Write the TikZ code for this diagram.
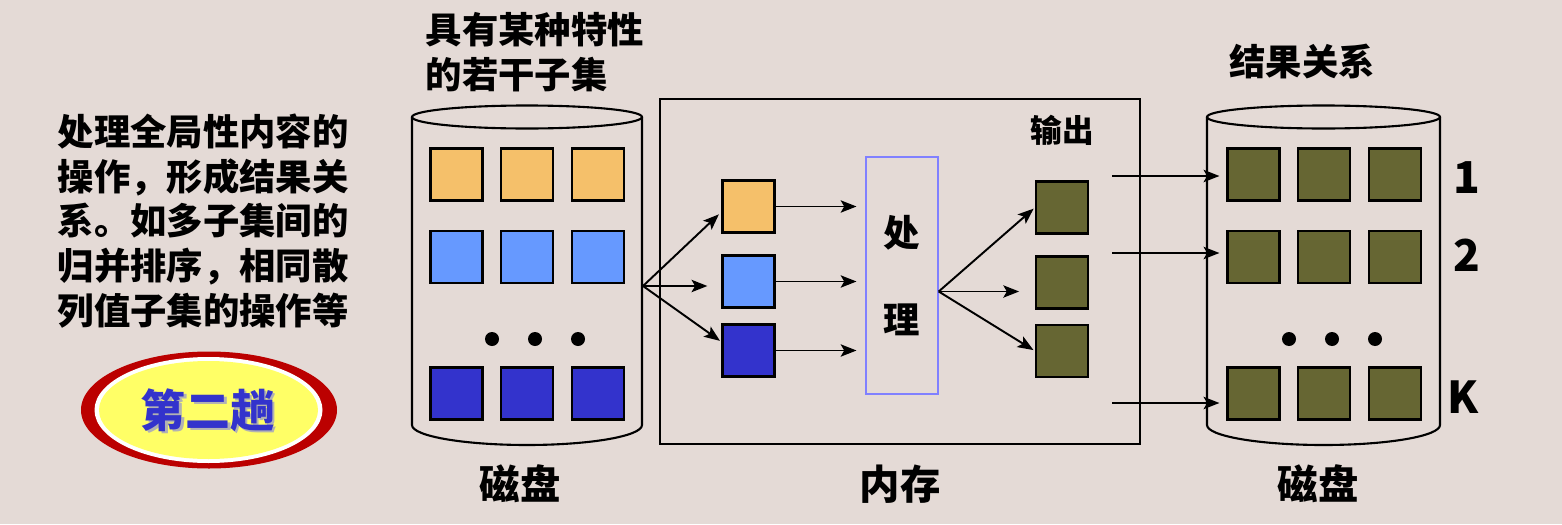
\documentclass[tikz,border=0pt]{standalone}
\usepackage{fontspec}
\setmainfont{Noto Sans CJK SC}
\usepackage{xcolor}
\usepackage{tikz}
\usetikzlibrary{arrows.meta}
\usetikzlibrary{calc}
\usetikzlibrary{positioning}
\definecolor{bgpaper}{HTML}{E4DAD6}
\definecolor{orng}{HTML}{F5C06A}
\definecolor{lblue}{HTML}{6699FF}
\definecolor{dblue}{HTML}{3333CC}
\definecolor{olive}{HTML}{666633}
\definecolor{procline}{HTML}{8080FF}
\definecolor{badgered}{HTML}{BB0000}
\definecolor{badgeyel}{HTML}{FFFF66}

\begin{document}
\begin{tikzpicture}[-,>={Stealth[length=9pt,width=7pt,inset=2pt]},x=0.2mm,y=0.2mm,node distance=5.7mm and 3.3mm,thick]
  \tikzstyle{blk}=[draw, line width=1.2pt, minimum size=10.4mm, inner sep=0pt]
  \tikzstyle{flow}=[->, line width=1.1pt]
  \tikzstyle{cyl}=[line width=1.2pt]
  \tikzstyle{txt}=[inner sep=0pt, font=\bfseries\fontsize{20.7}{25.5}\selectfont]
  \tikzstyle{big}=[inner sep=0pt, font=\bfseries\fontsize{23}{28}\selectfont]
  \fill[bgpaper] (0,0) rectangle (1562,524);
  \useasboundingbox (0,0) rectangle (1562,524);

  % left text and badge
  \node[txt, anchor=west, align=left] (note) at (57,303)
    {处理全局性内容的\\操作，形成结果关\\系。如多子集间的\\归并排序，相同散\\列值子集的操作等};
  \fill[badgered] (209,114) ellipse (128 and 58.5);
  \fill[white] (208.5,114) ellipse (114 and 53);
  \fill[badgeyel] (208.5,114) ellipse (109.5 and 49);
  \node[inner sep=0pt, text=gray!60, font=\bfseries\fontsize{25.5}{30}\selectfont] (badgeshadow) at (210.5,112) {第二趟};
  \node[inner sep=0pt, text=dblue, font=\bfseries\fontsize{25.5}{30}\selectfont] (badge) at (208,114) {第二趟};

  % left disk
  \draw[cyl] (527,407) ellipse (115 and 11.5);
  \draw[cyl] (412,407) -- (412,99) arc[start angle=180, end angle=360, x radius=115, y radius=20] -- (642,407);
  \node[blk, fill=orng]  (L1) at (456.5,349.5) {};
  \node[blk, fill=orng]  (L2) [right=of L1] {};
  \node[blk, fill=orng]  (L3) [right=of L2] {};
  \node[blk, fill=lblue] (L4) [below=of L1] {};
  \node[blk, fill=lblue] (L5) [right=of L4] {};
  \node[blk, fill=lblue] (L6) [right=of L5] {};
  \node[blk, fill=dblue] (L7) at (456.5,130.5) {};
  \node[blk, fill=dblue] (L8) [right=of L7] {};
  \node[blk, fill=dblue] (L9) [right=of L8] {};
  \fill (492,185) circle (7) (535,185) circle (7) (578,185) circle (7);
  \node[txt, align=left, anchor=west] (subsets) at (425,472) {具有某种特性\\的若干子集};
  \node[big] (disk1) at (520,40) {磁盘};

  % memory
  \node[draw, line width=1.2pt, minimum width=96mm, minimum height=69mm, inner sep=0pt] (mem) at (900,252.5) {};
  \node[big] (memlabel) at (900,40) {内存};
  \node[blk, fill=orng]  (M1) at (748.5,317.5) {};
  \node[blk, fill=lblue] (M2) at (748.5,242.5) {};
  \node[blk, fill=dblue] (M3) at (748.5,173.5) {};
  \node[draw=procline, line width=0.8pt, minimum width=14.4mm, minimum height=47.4mm, align=center,
        font=\bfseries\fontsize{20.7}{49.5}\selectfont] (P) at (902,248.5) {处\\理};
  \node[blk, fill=olive] (O1) at (1062,316.5) {};
  \node[blk, fill=olive] (O2) at (1062,241.5) {};
  \node[blk, fill=olive] (O3) at (1062,173) {};
  \node[inner sep=0pt, font=\bfseries\fontsize{18}{22}\selectfont] (outlabel) at (1062,394) {输出};

  % right disk
  \draw[cyl] (1323.5,407) ellipse (116.5 and 11.5);
  \draw[cyl] (1207,407) -- (1207,99) arc[start angle=180, end angle=360, x radius=116.5, y radius=20] -- (1440,407);
  \node[blk, fill=olive] (R1) at (1253.5,349.5) {};
  \node[blk, fill=olive] (R2) [right=of R1] {};
  \node[blk, fill=olive] (R3) [right=of R2] {};
  \node[blk, fill=olive] (R4) [below=of R1] {};
  \node[blk, fill=olive] (R5) [right=of R4] {};
  \node[blk, fill=olive] (R6) [right=of R5] {};
  \node[blk, fill=olive] (R7) at (1253.5,130.5) {};
  \node[blk, fill=olive] (R8) [right=of R7] {};
  \node[blk, fill=olive] (R9) [right=of R8] {};
  \fill (1289,185) circle (7) (1332,185) circle (7) (1375,185) circle (7);
  \node[inner sep=0pt, font=\bfseries\fontsize{25}{30}\selectfont] (n1) at (1467,346) {1};
  \node[inner sep=0pt, font=\bfseries\fontsize{25}{30}\selectfont] (n2) at (1467,269) {2};
  \node[inner sep=0pt, font=\bfseries\fontsize{25}{30}\selectfont] (nk) at (1463,127) {K};
  \node[txt] (result) at (1302,462) {结果关系};
  \node[big] (disk2) at (1318,40) {磁盘};

  % connectors
  \coordinate (S) at (643,238);
  \coordinate (Q) at ($(P.east)+(0,-16)$);
  \coordinate (T1) at (1112,348);
  \coordinate (T2) at (1112,271);
  \coordinate (T3) at (1112,121);
  \draw[flow,shorten >=2pt] (S) -- ($(M1.north west)!0.6!(M1.south west)$);
  \draw[flow,shorten >=8pt] (S) -- (S -| M2.west);
  \draw[flow,shorten >=1pt] (S) -- ($(M3.north west)!0.34!(M3.south west)$);
  \draw[flow,shorten >=5pt] (M1.east) -- (M1.east -| P.west);
  \draw[flow,shorten >=5pt] (M2.east) -- (M2.east -| P.west);
  \draw[flow,shorten >=5pt] (M3.east) -- (M3.east -| P.west);
  \draw[flow,shorten >=1pt] (Q) -- (O1.west);
  \draw[flow,shorten >=9pt] (Q) -- (Q -| O2.west);
  \draw[flow,shorten >=1pt] (Q) -- (O3.west);
  \draw[flow,shorten >=4pt] (T1) -- (T1 -| R1.west);
  \draw[flow,shorten >=4pt] (T2) -- (T2 -| R4.west);
  \draw[flow,shorten >=4pt] (T3) -- (T3 -| R7.west);
\end{tikzpicture}
\end{document}
